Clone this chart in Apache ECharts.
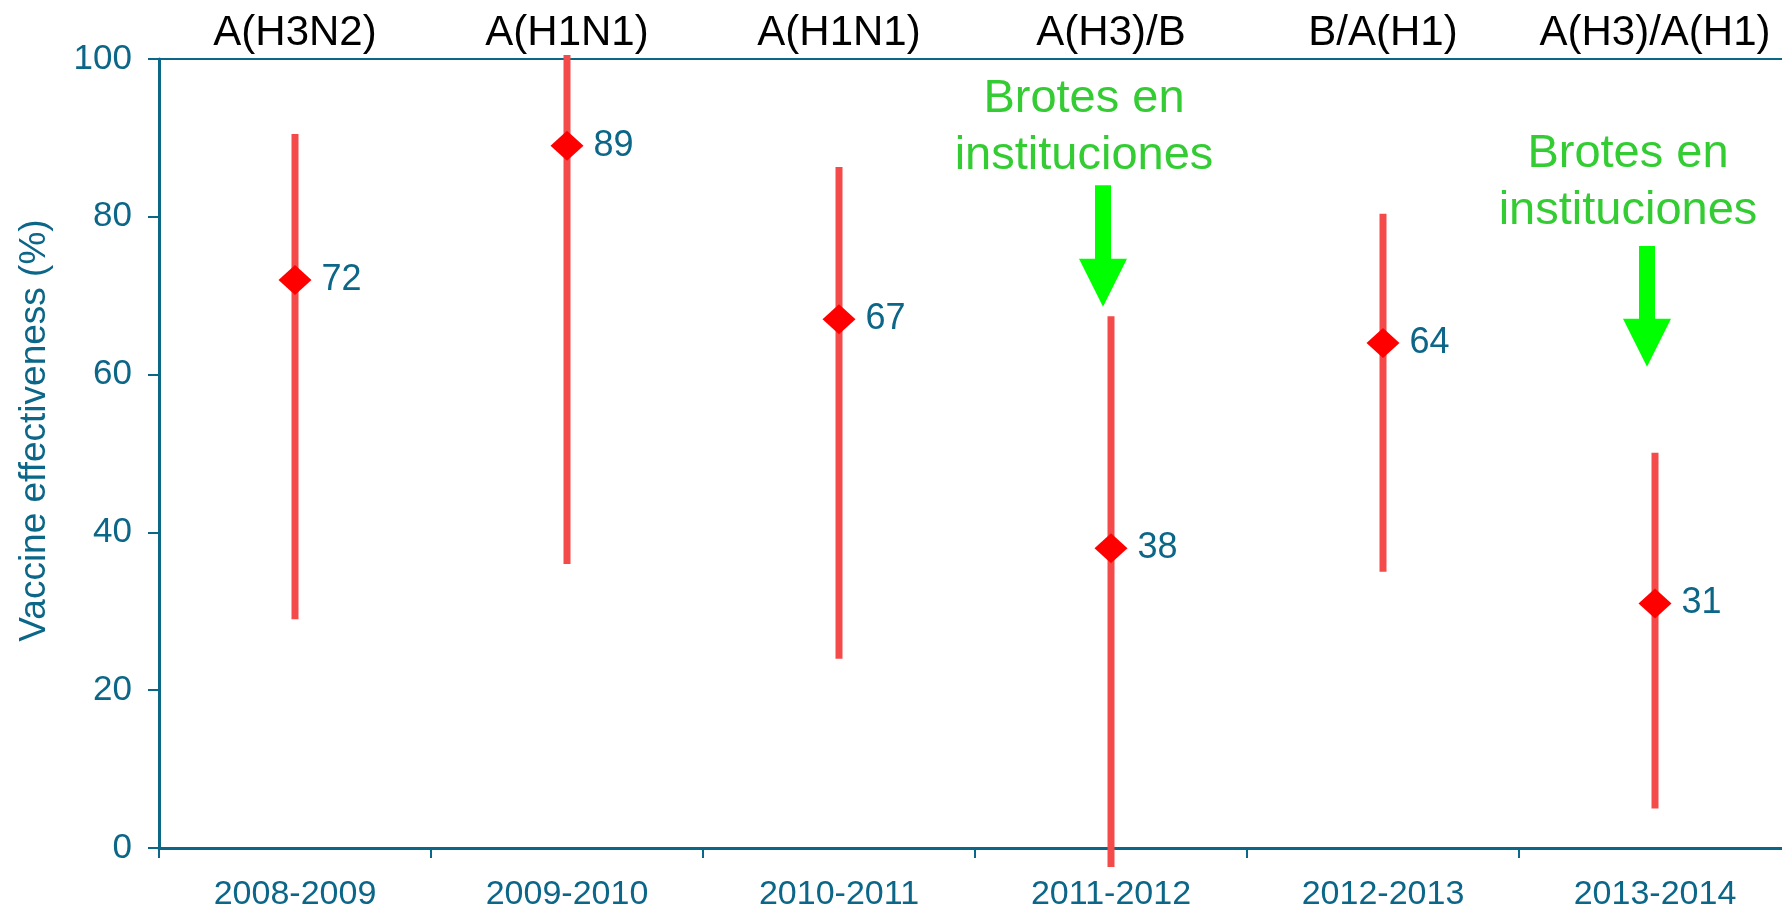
<!DOCTYPE html>
<html>
<head>
<meta charset="utf-8">
<script src="https://cdn.jsdelivr.net/npm/echarts@6/dist/echarts.min.js"></script>
<style>
  html, body { margin: 0; padding: 0; background: #fff; }
  #chart { width: 1782px; height: 913px; }
</style>
</head>
<body>
<div id="chart"></div>
<script>
// seasons and strains
const seasons = ["2008-2009", "2009-2010", "2010-2011", "2011-2012", "2012-2013", "2013-2014"];
const strains = ["A(H3N2)", "A(H1N1)", "A(H1N1)", "A(H3)/B", "B/A(H1)", "A(H3)/A(H1)"];
// vaccine effectiveness and 95% CI
const ve = [72, 89, 67, 38, 64, 31];
const ciLow = [29, 36, 24, -2.4, 35, 5];
const ciHigh = [90.5, 100.5, 86.3, 67.4, 80.4, 50.1];
// "Brotes en instituciones" notes
const noteSeason = [3, 5];
const noteText = ["Brotes en\ninstituciones", "Brotes en\ninstituciones"];
const noteTextAt = [91.3, 84.3];
const arrowFrom = [84, 76.3];
const arrowTo = [68.6, 61];

const teal = "#0b6687";
const font = "Liberation Sans, Arial, sans-serif";

let chart = echarts.init(document.getElementById("chart"));

let option = {
  animation: false,
  textStyle: { fontFamily: font },
  grid: { left: 159, top: 59, width: 1632, height: 789, outerBoundsMode: "none", containLabel: false },
  xAxis: [
    {
      type: "category",
      data: seasons,
      position: "bottom",
      axisLine: { lineStyle: { color: teal, width: 3 } },
      axisTick: { show: true, length: 10, lineStyle: { color: teal, width: 2 } },
      axisLabel: { color: teal, fontSize: 34, margin: 30, interval: 0 },
    },
    {
      type: "category",
      data: strains,
      position: "top",
      axisLine: { lineStyle: { color: teal, width: 2 } },
      axisTick: { show: false },
      axisLabel: { color: "#000", fontSize: 42, margin: 5, interval: 0 },
    },
  ],
  yAxis: {
    type: "value",
    min: 0,
    max: 100,
    interval: 20,
    name: "Vaccine effectiveness (%)",
    nameLocation: "middle",
    nameGap: 106,
    nameTextStyle: { color: teal, fontSize: 37, padding: [0, 0, 0, 46] },
    axisLine: { show: true, lineStyle: { color: teal, width: 3 } },
    axisTick: { show: true, length: 11, lineStyle: { color: teal, width: 2 } },
    axisLabel: { color: teal, fontSize: 35, margin: 27 },
    splitLine: { show: false },
  },
  series: [
    {
      name: "CI",
      type: "custom",
      clip: false,
      data: seasons.map((s, i) => [i, ciLow[i], ciHigh[i]]),
      renderItem: function (params, api) {
        let lo = api.coord([api.value(0), api.value(1)]);
        let hi = api.coord([api.value(0), api.value(2)]);
        return {
          type: "rect",
          shape: { x: lo[0] - 3.5, y: hi[1], width: 7, height: lo[1] - hi[1] },
          style: { fill: "#f54a4a" },
        };
      },
      z: 2,
    },
    {
      name: "VE",
      type: "scatter",
      data: seasons.map((s, i) => [i, ve[i]]),
      symbol: "diamond",
      symbolSize: [33, 30],
      itemStyle: { color: "#ff0000", opacity: 1 },
      label: {
        show: true,
        position: "right",
        distance: 10,
        color: teal,
        fontSize: 36,
        formatter: (p) => p.value[1],
      },
      z: 3,
    },
    {
      name: "notes",
      type: "custom",
      clip: false,
      data: noteSeason.map((c, i) => [c, arrowFrom[i], arrowTo[i], noteTextAt[i]]),
      renderItem: function (params, api) {
        let c = api.value(0);
        let top = api.coord([c, api.value(1)]);
        let tip = api.coord([c, api.value(2)]);
        let txt = api.coord([c, api.value(3)]);
        let x = top[0] - 8;
        let headTop = tip[1] - 48;
        return {
          type: "group",
          children: [
            {
              type: "polygon",
              shape: {
                points: [
                  [x - 8, top[1]], [x + 8, top[1]], [x + 8, headTop], [x + 24, headTop],
                  [x, tip[1]], [x - 24, headTop], [x - 8, headTop],
                ],
              },
              style: { fill: "#00ff00" },
            },
            {
              type: "text",
              x: txt[0] - 27,
              y: txt[1],
              style: {
                text: noteText[params.dataIndex],
                fill: "#33cc33",
                font: "47px " + font,
                lineHeight: 57,
                align: "center",
                verticalAlign: "middle",
              },
            },
          ],
        };
      },
      z: 4,
    },
  ],
};

option && chart.setOption(option);
</script>
</body>
</html>
